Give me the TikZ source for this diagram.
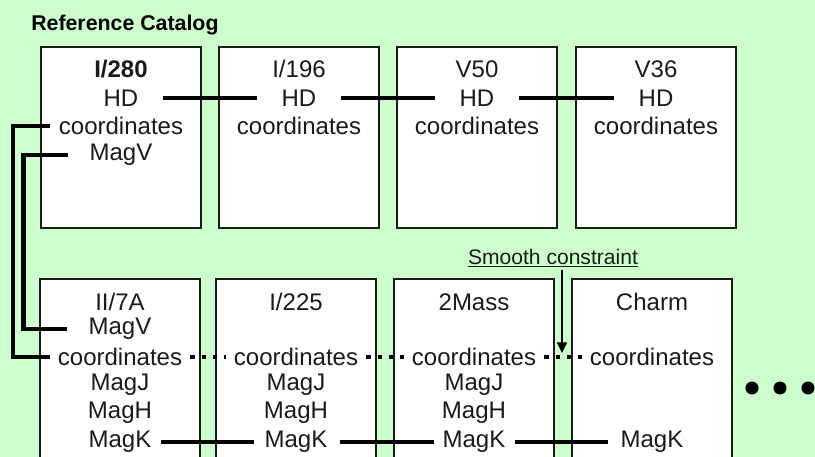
\documentclass[tikz,border=0pt]{standalone}
\usepackage{fontspec}
\setmainfont{Liberation Sans}
\usetikzlibrary{arrows.meta,calc}
\definecolor{CatalogGreen}{HTML}{CCFFCC}
\definecolor{CatalogInk}{HTML}{1A1A1A}

\tikzset{
  catbox/.style={draw=CatalogInk,line width=0.9pt,fill=white},
  entry/.style={inner sep=0pt,text=CatalogInk,font=\fontsize{18}{21}\selectfont},
  link/.style={line width=3.2pt,line cap=butt},
  dotlink/.style={line width=3.2pt,dash pattern=on 3.2pt off 5.3pt,shorten <=6pt,shorten >=6pt}
}

\begin{document}
\begin{tikzpicture}[x=0.75pt,y=-0.75pt,>=Stealth]
  \fill[CatalogGreen] (0,0) rectangle (815,457);
  \useasboundingbox (0,0) rectangle (815,457);
  \clip (0,0) rectangle (815,457);

  \node[anchor=west,inner sep=0pt,font=\fontsize{16}{19}\selectfont\bfseries] (refcat) at (31,25) {Reference Catalog};

  % upper row of catalogues
  \foreach \x in {41,219,397,576}
    \draw[catbox] (\x,47) rectangle +(160,181);
  \node[entry,font=\fontsize{18}{21}\selectfont\bfseries] (tA) at (121,69) {I/280};
  \node[entry] (hdA) at (121,98) {HD};
  \node[entry] (coTA) at (121,126) {coordinates};
  \node[entry] (mvTA) at (121,155) {MagV};
  \node[entry] (tB) at (299,69) {I/196};
  \node[entry] (hdB) at (299,98) {HD};
  \node[entry] (coTB) at (299,126) {coordinates};
  \node[entry] (tC) at (477,69) {V50};
  \node[entry] (hdC) at (477,98) {HD};
  \node[entry] (coTC) at (477,126) {coordinates};
  \node[entry] (tD) at (656,69) {V36};
  \node[entry] (hdD) at (656,98) {HD};
  \node[entry] (coTD) at (656,126) {coordinates};

  % lower row of catalogues
  \foreach \x in {40,216,394,572}
    \draw[catbox] (\x,279) rectangle +(160,200);
  \node[entry] (bA) at (120,302) {II/7A};
  \node[entry] (mvA) at (120,329) {MagV};
  \node[entry] (coA) at (120,357) {coordinates};
  \node[entry] (mjA) at (120,385) {MagJ};
  \node[entry] (mhA) at (120,413) {MagH};
  \node[entry] (mkA) at (120,442) {MagK};
  \node[entry] (bB) at (296,302) {I/225};
  \node[entry] (coB) at (296,357) {coordinates};
  \node[entry] (mjB) at (296,385) {MagJ};
  \node[entry] (mhB) at (296,413) {MagH};
  \node[entry] (mkB) at (296,442) {MagK};
  \node[entry] (bC) at (474,302) {2Mass};
  \node[entry] (coC) at (474,357) {coordinates};
  \node[entry] (mjC) at (474,385) {MagJ};
  \node[entry] (mhC) at (474,413) {MagH};
  \node[entry] (mkC) at (474,442) {MagK};
  \node[entry] (bD) at (652,302) {Charm};
  \node[entry] (coD) at (652,357) {coordinates};
  \node[entry] (mkD) at (652,442) {MagK};

  % cross matches
  \draw[link,shorten <=18pt,shorten >=18pt] (hdA.east) -- (hdB.west);
  \draw[link,shorten <=18pt,shorten >=18pt] (hdB.east) -- (hdC.west);
  \draw[link,shorten <=18pt,shorten >=18pt] (hdC.east) -- (hdD.west);
  \draw[link,shorten <=7pt,shorten >=8pt] (mkA.east) -- (mkB.west);
  \draw[link,shorten <=9pt,shorten >=6pt] (mkB.east) -- (mkC.west);
  \draw[link,shorten <=7pt,shorten >=9pt] (mkC.east) -- (mkD.west);
  \draw[dotlink] (coA.east) -- (coB.west);
  \draw[dotlink] (coB.east) -- (coC.west);
  \draw[dotlink] (coC.east) -- (coD.west);
  \draw[link,shorten <=6.5pt,shorten >=6pt] (coTA.west) -- ++(-46,0) |- (coA.west);
  \draw[link,shorten <=16pt,shorten >=16pt] (mvTA.west) -- ++(-66,0) |- (mvA.west);

  \node[inner sep=0pt,text=CatalogInk,font=\fontsize{15.8}{18}\selectfont] (smooth) at (553,258) {\underline{Smooth constraint}};
  \coordinate (tip) at (562,353);
  \draw[line width=1.1pt,-{Triangle[width=7.5pt,length=8pt]}] ([yshift=-2pt]smooth.south -| tip) -- (tip);

  \foreach \x in {752,780,808}
    \fill (\x,388) circle[radius=4.9pt];
\end{tikzpicture}
\end{document}
